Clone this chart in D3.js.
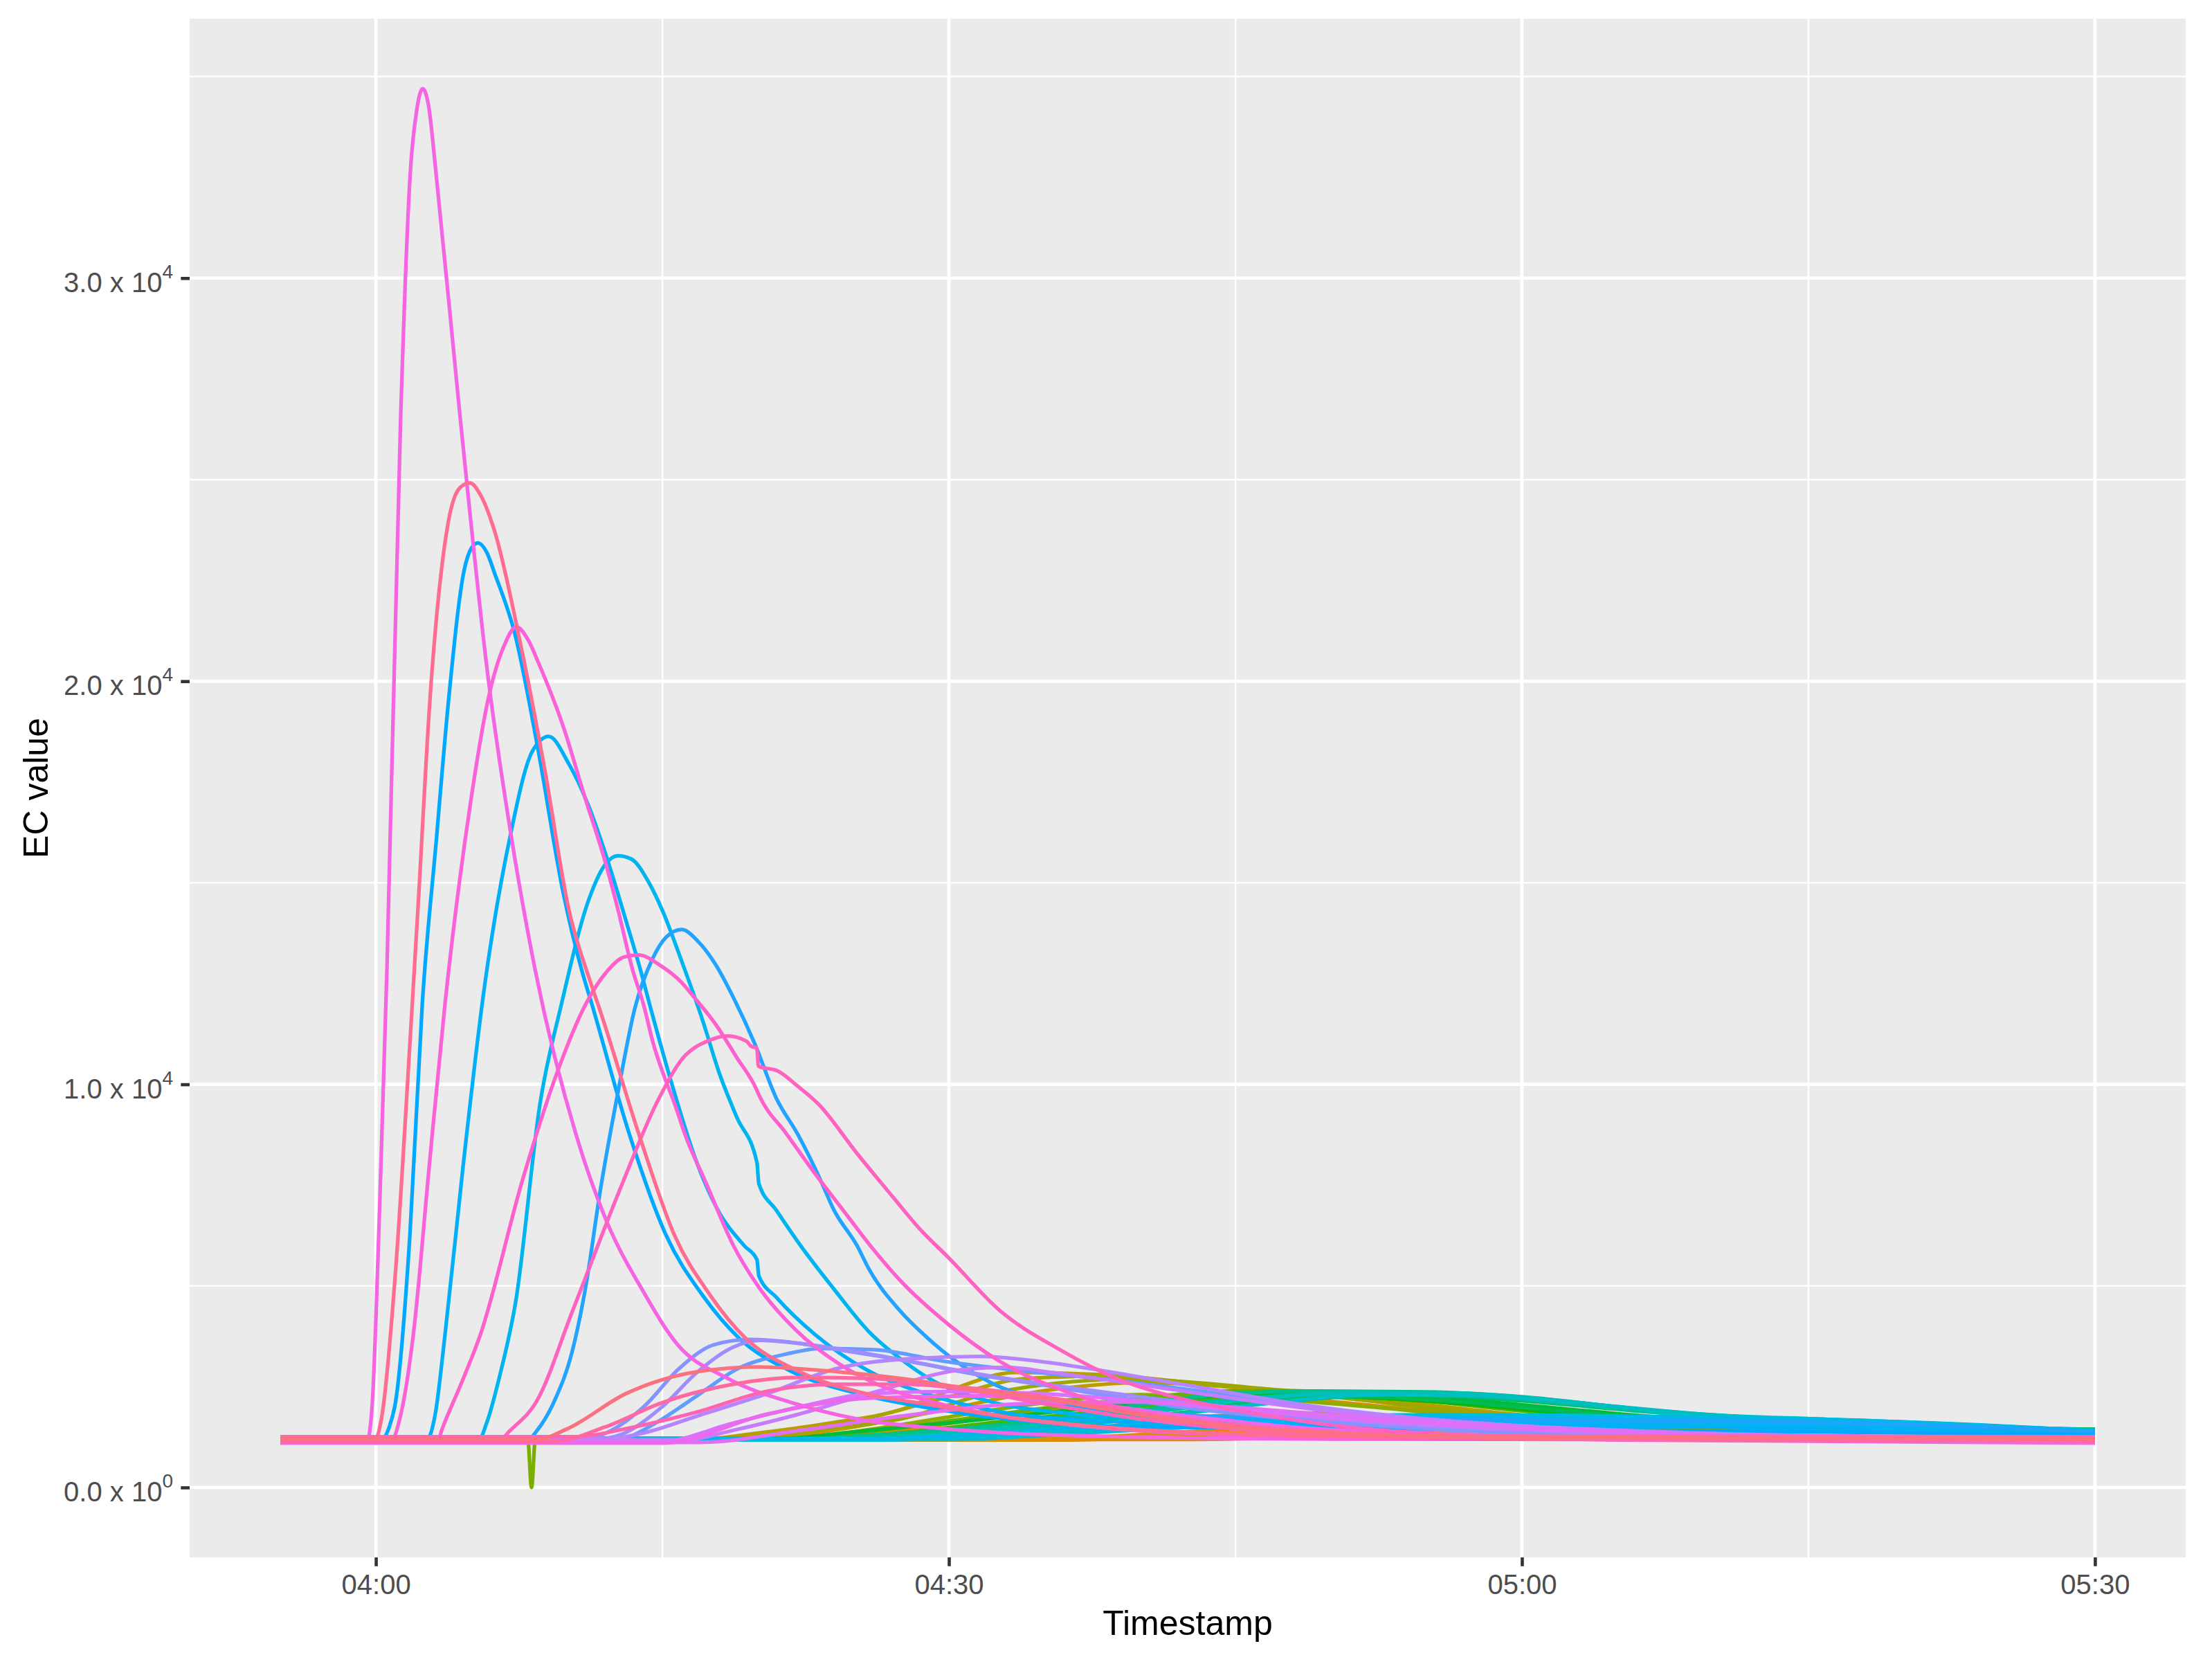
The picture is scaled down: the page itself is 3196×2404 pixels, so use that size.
<!DOCTYPE html>
<html><head><meta charset="utf-8">
<script src="https://cdn.jsdelivr.net/npm/d3@7"></script>
<style>html,body{margin:0;padding:0;background:#fff;} svg{display:block;}</style>
</head><body>
<svg id="chart" width="3196" height="2404"></svg>
<script>
// ---- data: [minutes after 04:00, EC value] ----
const g01 = [[-5,1200],[40,1200],[50,1320],[60,1480],[70,1500],[80,1450],[90,1420]];
const g02 = [[-5,1190],[42,1190],[52,1320],[62,1450],[72,1480],[82,1450],[90,1425]];
const g03 = [[-5,1210],[38,1210],[48,1360],[58,1520],[68,1540],[78,1480],[90,1435]];
const g04 = [[-5,1200],[44,1200],[54,1350],[64,1470],[74,1490],[84,1460],[90,1440]];
const g05 = [[-5,1180],[36,1180],[46,1380],[56,1580],[66,1600],[76,1520],[90,1445]];
const g06 = [[-5,1200],[34,1200],[44,1420],[54,1650],[62,1660],[72,1560],[82,1480],[90,1440]];
const g07 = [[-5,1200],[22,1200],[28,1450],[33,1800],[38,2100],[43,2250],[48,2200],[55,1900],[62,1620],[72,1500],[90,1440]];
const g08 = [[-5,1220],[20,1220],[25,1500],[30,1950],[35,2400],[40,2600],[45,2500],[50,2300],[56,1950],[62,1700],[72,1520],[90,1440]];
const g09 = [[-5,1200],[17,1200],[20,1350],[23.8,1600],[27.5,1930],[30,2400],[33.5,2850],[37.9,2800],[42.3,2620],[44.6,2500],[48,2380],[52,2200],[56,2000],[60,1800],[66,1650],[75,1530],[90,1430]];
const g10 = [[-5,1210],[18,1210],[22,1400],[26,1750],[30,2250],[34,2700],[38,2760],[43,2560],[48,2350],[54,2050],[60,1750],[70,1560],[90,1430]];
const g11 = [[-5,1180],[19,1180],[23.8,1470],[27.5,1700],[31.6,2270],[35,2550],[39,2680],[43,2600],[47,2420],[52,2150],[57,1850],[62,1620],[70,1520],[80,1470],[90,1420]];
const g12 = [[-5,1190],[21,1190],[26,1450],[30,1750],[35,2100],[40,2300],[45,2250],[52,2000],[60,1650],[70,1450],[90,1400]];
const g13 = [[-5,1200],[7.95,1200],[8.15,0],[8.35,1200],[30,1200],[36,1400],[42,1700],[48,1850],[55,1700],[62,1500],[72,1400],[90,1380]];
const g14 = [[-5,1190],[22,1190],[26,1400],[30.8,1700],[35.4,1990],[40,2210],[44.6,2390],[48,2400],[52.8,2250],[60,1900],[69.4,1550],[80,1450],[90,1410]];
const g15 = [[-5,1200],[23,1200],[28,1380],[33,1650],[38,1900],[43,2150],[48,2300],[53,2200],[60,1950],[68,1650],[78,1480],[90,1420]];
const g16 = [[-5,1180],[24,1180],[30,1400],[35,1650],[40,1900],[45,2150],[50,2250],[55,2150],[62,1850],[70,1600],[80,1480],[90,1420]];
const g17 = [[-5,1210],[21,1210],[25,1380],[30,1600],[35,1850],[40,2100],[45,2300],[50,2350],[55,2250],[60,2050],[67,1750],[75,1550],[90,1430]];
const g18 = [[-5,1190],[25,1190],[31,1400],[36,1650],[41,1900],[46,2150],[51,2250],[56,2150],[62,1900],[70,1650],[80,1500],[90,1430]];
const g19 = [[-5,1200],[24,1200],[29,1350],[34,1550],[39,1800],[44,2050],[49,2250],[54,2300],[60,2150],[66,1900],[74,1650],[90,1440]];
const g20 = [[-5,1210],[26,1210],[32,1400],[38,1650],[43,1900],[48,2150],[53,2300],[58,2250],[64,2000],[72,1700],[82,1520],[90,1440]];
const g21 = [[-5,1200],[22,1200],[26,1300],[30.8,1470],[35.4,1700],[40,2040],[44.6,2330],[49.3,2390],[55,2370],[60,2250],[65,2000],[69.4,1780],[75,1700],[82,1560],[90,1420]];
const g22 = [[-5,1190],[24,1190],[29,1330],[34,1550],[39,1850],[44,2150],[49,2300],[54,2330],[60,2200],[65,1950],[70,1750],[76,1650],[90,1410]];
const g23 = [[-5,1210],[25,1210],[30,1350],[35,1580],[40,1870],[45,2150],[50,2330],[56,2350],[61,2200],[66,1950],[71,1770],[78,1640],[90,1400]];
const g24 = [[-5,1200],[26,1200],[31,1350],[36,1600],[41,1900],[46,2200],[51,2360],[57,2300],[63,2100],[68,1850],[74,1700],[82,1560],[90,1390]];
const g25 = [[-5,1180],[27,1180],[32,1320],[37,1550],[42,1820],[47,2100],[52,2300],[58,2280],[64,2050],[70,1800],[76,1690],[84,1520],[90,1380]];
const g26 = [[-5,1200],[28,1200],[35,1350],[42,1550],[48,1720],[54,1800],[62,1790],[70,1740],[78,1660],[85,1520],[90,1400]];
const g27 = [[-5,1190],[30,1190],[37,1350],[44,1530],[50,1650],[56,1700],[64,1690],[72,1640],[80,1560],[90,1380]];
const g28 = [[-5,1210],[26,1210],[33,1380],[40,1560],[46,1720],[52,1780],[60,1780],[68,1750],[76,1690],[84,1550],[90,1410]];
const g29 = [[-5,1190],[5.4,1190],[5.8,1600],[6.5,2800],[7.32,4610],[8.6,9540],[9.72,12000],[11.16,14600],[12.0,15450],[12.67,15670],[13.37,15590],[14.3,15000],[15.04,14270],[15.96,13120],[17.07,11640],[18.0,10250],[18.9,9180],[19.95,8060],[20.05,7540],[20.96,6880],[22.25,5990],[23.95,4940],[25.8,3870],[27.64,3130],[28.9,2720],[32,2150],[36,1850],[42,1680],[50,1620],[60,1600],[75,1550],[84,1460],[90,1360]];
const g30 = [[-5,1210],[2.7,1210],[3.1,1800],[3.62,3790],[4.55,7900],[5.65,12300],[7.05,16200],[8.18,18250],[9.05,18630],[10.1,17950],[11.1,16950],[12.07,15650],[13.1,14050],[13.84,12860],[14.35,11950],[15.6,9840],[16.7,8190],[18.0,6800],[19.3,5990],[19.95,5650],[20.05,5250],[21.0,4700],[23.0,3790],[25.8,2890],[28.9,2310],[33,1850],[38,1650],[45,1560],[55,1530],[70,1500],[82,1420],[90,1330]];
const g31 = [[-5,1200],[0.3,1200],[0.7,1500],[1.04,2150],[1.78,6250],[2.43,12000],[3.17,16090],[3.82,19600],[4.62,22750],[5.0,23300],[5.35,23430],[5.8,23200],[6.23,22660],[7.28,21170],[8.5,18280],[9.8,14770],[10.76,12860],[11.3,12000],[13.3,8720],[15.2,6250],[17.1,4770],[19.0,3710],[21.7,2890],[25.4,2310],[28.6,2000],[33,1700],[40,1500],[50,1460],[60,1430],[75,1380],[90,1300]];
const g32 = [[-5,1200],[8.0,1200],[8.43,1410],[9.35,2150],[10.28,3380],[11.0,5020],[11.76,7400],[12.7,9870],[13.56,11890],[14.49,13120],[15.2,13650],[16.0,13840],[16.9,13530],[17.8,12960],[18.73,12140],[19.85,10990],[20.95,9670],[22.1,8750],[23.36,7540],[23.95,6910],[25.2,5990],[25.8,5430],[27.5,4350],[28.9,3700],[30.2,3190],[32.2,2600],[35,2150],[40,1850],[48,1720],[60,1680],[70,1650],[80,1560],[90,1380]];
const g33 = [[-5,1190],[13.0,1190],[13.5,1300],[15,1700],[16.8,2270],[19.0,2960],[21.4,3300],[23.3,3450],[26.05,3420],[29.75,3130],[34.7,2850],[37.9,2700],[44.1,2330],[50.3,1930],[55,1680],[60,1470],[70,1300],[90,1200]];
const g34 = [[-5,1200],[11.0,1200],[11.8,1300],[14.0,1990],[15.9,2960],[17.7,3540],[19.6,3670],[21.4,3620],[24.2,3420],[27.9,3130],[31.6,2790],[34.7,2560],[38,2300],[42,2000],[48,1700],[55,1450],[65,1300],[90,1220]];
const g35 = [[-5,1210],[11.8,1210],[12.75,1300],[14.96,1990],[16.8,2850],[18.66,3470],[20.1,3650],[22,3580],[25,3380],[28.5,3080],[32,2780],[36,2500],[40,2250],[46,1900],[52,1620],[60,1420],[70,1300],[90,1230]];
const g36 = [[-5,1200],[12,1200],[14,1350],[17,1800],[20.5,2330],[24.2,2960],[27.9,3190],[31.6,3250],[34.7,3130],[38,2900],[42.3,2550],[49.3,2000],[55,1700],[60,1520],[70,1320],[90,1210]];
const g37 = [[-5,1180],[16,1180],[19,1450],[22,1800],[26,2350],[30.8,2930],[33,2980],[35.4,2850],[42.3,2390],[49.3,1930],[60,1530],[70,1340],[90,1200]];
const g38 = [[-5,1150],[15,1150],[18.66,1590],[22,1980],[26,2330],[30,2380],[34.7,2330],[40,2150],[46,1880],[52,1650],[60,1450],[70,1300],[90,1150]];
const g39 = [[-5,1120],[17,1120],[22,1400],[28,1800],[34,2080],[40,2120],[46,1950],[52,1720],[60,1480],[70,1300],[90,1130]];
const g40 = [[-5,1100],[15,1100],[20.5,1820],[26.05,2220],[31.6,2270],[36,2150],[42,1800],[48,1500],[55,1320],[65,1180],[90,1100]];
const g41 = [[-5,1180],[-0.45,1180],[-0.2,2000],[0.2,7000],[0.58,12860],[1.3,26600],[1.8,32600],[2.15,34200],[2.45,34700],[2.75,34300],[3.15,32600],[4.4,26600],[5.9,20000],[7.05,16260],[8.33,12860],[10.5,8720],[11.95,6750],[14.0,4860],[15.8,3540],[18.4,2710],[22.1,2060],[25.8,1650],[28.9,1490],[33,1350],[40,1250],[50,1200],[90,1180]];
const g42 = [[-5,1170],[0.8,1170],[1.3,1800],[1.96,3790],[2.8,8000],[3.62,12000],[4.95,16970],[5.9,19600],[6.73,20900],[7.35,21350],[8.0,21000],[8.5,20470],[9.8,18890],[10.93,17140],[12.08,15400],[12.64,14400],[13.47,12790],[14.0,12000],[14.49,11070],[15.8,9300],[16.15,8800],[17.3,7540],[18.73,5990],[20,5000],[22,3900],[24.3,3050],[26.7,2470],[28.9,2150],[33,1750],[38,1480],[45,1300],[55,1200],[90,1170]];
const g43 = [[-5,1220],[3.3,1220],[3.44,1410],[4.4,2500],[5.47,3790],[7.69,7650],[9.54,10360],[11.0,12000],[12.08,12790],[13.0,13160],[13.75,13210],[14.86,12960],[15.96,12550],[16.7,12140],[17.8,11480],[18.9,10660],[19.9,9900],[20.04,9750],[21.5,8770],[23.0,7780],[24.46,6880],[25.9,5990],[27.46,5130],[29.96,4050],[32.66,3130],[36.8,2270],[41,1760],[46.2,1410],[52,1280],[60,1230],[90,1220]];
const g44 = [[-5,1180],[6.5,1180],[7.0,1400],[8.43,2150],[10.28,4360],[12.86,7490],[14.7,9540],[16.0,10610],[17.5,11100],[18.4,11200],[19.4,11070],[19.66,10940],[19.94,10900],[20.03,10450],[21.05,10330],[22.07,9960],[23.17,9510],[25.2,8280],[27.06,7210],[28.5,6400],[29.96,5710],[32.66,4390],[35.8,3420],[38.9,2680],[42.0,2220],[46.2,1820],[50.3,1530],[54.5,1360],[60,1270],[70,1200],[90,1180]];
const g45 = [[-5,1260],[10.5,1260],[13,1450],[16.8,1870],[20.5,2390],[24.2,2560],[27.9,2560],[31,2420],[34.7,2100],[40,1700],[45,1450],[52,1300],[60,1270],[90,1260]];
const g46 = [[-5,1140],[9.3,1140],[12,1500],[14.96,2100],[18.7,2560],[22.35,2730],[26.05,2700],[30,2520],[34.7,2270],[40,1850],[45,1550],[52,1330],[60,1200],[90,1150]];
const g47 = [[-5,1230],[0,1230],[0.3,1730],[1.04,5430],[1.78,11000],[2.2,14340],[2.84,19600],[3.8,23970],[4.4,24800],[4.92,24920],[5.5,24600],[6.23,23700],[7.54,21000],[8.83,17840],[10.1,14340],[11.26,12500],[11.76,11800],[13.8,8720],[15.64,6250],[17.5,4770],[19.34,3710],[22.1,2890],[25.8,2310],[28.9,2060],[33,1750],[38,1500],[45,1330],[55,1250],[90,1230]];
const g48 = [[-5,1200],[8.5,1200],[10,1450],[13.1,2330],[16.8,2870],[20.0,2990],[24.2,2870],[27.9,2680],[31,2450],[34.7,2220],[40,1800],[45,1500],[50,1350],[60,1250],[90,1210]];

const seriesList = [g01,g02,g03,g04,g05,g06,g07,g08,g09,g10,g11,g12,g13,g14,g15,g16,g17,g18,g19,g20,g21,g22,g23,g24,g25,g26,g27,g28,g29,g30,g31,g32,g33,g34,g35,g36,g37,g38,g39,g40,g41,g42,g43,g44,g45,g46,g47,g48];
const seriesNames = seriesList.map((_, i) => "g" + String(i + 1).padStart(2, "0"));

const startClock = "04:00";
const xTickLabels = ["04:00", "04:30", "05:00", "05:30"];
const yTickValues = [0, 10000, 20000, 30000];
const yTickMantissas = ["0.0", "1.0", "2.0", "3.0"];
const yTickExponents = ["0", "4", "4", "4"];
const xTitle = "Timestamp";
const yTitle = "EC value";

// ---- colours: ggplot2 hue palette (polarLUV) ----
function hclHex(h, c, l) {
  const WY = 100, Wu = 0.1978398, Wv = 0.4683363;
  const hr = h * Math.PI / 180;
  const U = c * Math.cos(hr), V = c * Math.sin(hr);
  const Y = WY * (l > 7.999592 ? Math.pow((l + 16) / 116, 3) : l / 903.3);
  const u = U / (13 * l) + Wu, v = V / (13 * l) + Wv;
  const X = 9 * Y * u / (4 * v);
  const Z = -X / 3 - 5 * Y + 3 * Y / v;
  const g = x => x > 0.00304 ? 1.055 * Math.pow(x, 1 / 2.4) - 0.055 : 12.92 * x;
  const cl = x => Math.max(0, Math.min(1, x));
  const r = cl(g((3.240479 * X - 1.537150 * Y - 0.498535 * Z) / WY));
  const gg = cl(g((-0.969256 * X + 1.875992 * Y + 0.041556 * Z) / WY));
  const b = cl(g((0.055648 * X - 0.204043 * Y + 1.057311 * Z) / WY));
  return d3.rgb(Math.round(r * 255), Math.round(gg * 255), Math.round(b * 255)).formatHex();
}
const N = seriesList.length;
const color = d3.scaleOrdinal().domain(seriesNames)
  .range(seriesNames.map((_, i) => hclHex(15 + 360 * i / N, 100, 65)));

// ---- layout ----
const W = 3196, H = 2404;
const P = {left: 274, right: 3158, top: 27, bottom: 2250};
const parseClock = d3.timeParse("%H:%M");
const base = parseClock(startClock);
const toDate = m => new Date(base.getTime() + m * 60000);

const data = seriesList.map((pts, i) => ({name: seriesNames[i], values: pts.map(p => ({t: toDate(p[0]), v: p[1]}))}));
const allT = data.flatMap(s => s.values.map(d => d.t));
const allV = data.flatMap(s => s.values.map(d => d.v));
const tExt = d3.extent(allT), vExt = d3.extent(allV);
const tPad = (tExt[1] - tExt[0]) * 0.05, vPad = (vExt[1] - vExt[0]) * 0.05;

const x = d3.scaleTime().domain([new Date(+tExt[0] - tPad), new Date(+tExt[1] + tPad)]).range([P.left, P.right]);
const y = d3.scaleLinear().domain([vExt[0] - vPad, vExt[1] + vPad]).range([P.bottom, P.top]);

const svg = d3.select("#chart");
svg.append("rect").attr("width", W).attr("height", H).attr("fill", "#ffffff");
svg.append("rect").attr("x", P.left).attr("y", P.top).attr("width", P.right - P.left).attr("height", P.bottom - P.top).attr("fill", "#EBEBEB");

const xMajor = xTickLabels.map(s => parseClock(s));
const xStep = xMajor[1] - xMajor[0];
const xMinor = d3.range(xMajor.length + 1).map(i => new Date(+xMajor[0] - xStep / 2 + i * xStep))
  .filter(d => d >= x.domain()[0] && d <= x.domain()[1]);
const yStep = yTickValues[1] - yTickValues[0];
const yMinor = d3.range(yTickValues.length + 1).map(i => yTickValues[0] - yStep / 2 + i * yStep)
  .filter(v => v >= y.domain()[0] && v <= y.domain()[1]);

const grid = svg.append("g");
grid.selectAll(".ymin").data(yMinor).join("line").attr("x1", P.left).attr("x2", P.right)
  .attr("y1", d => y(d)).attr("y2", d => y(d)).attr("stroke", "#fff").attr("stroke-width", 2.4);
grid.selectAll(".xmin").data(xMinor).join("line").attr("y1", P.top).attr("y2", P.bottom)
  .attr("x1", d => x(d)).attr("x2", d => x(d)).attr("stroke", "#fff").attr("stroke-width", 2.4);
grid.selectAll(".ymaj").data(yTickValues).join("line").attr("x1", P.left).attr("x2", P.right)
  .attr("y1", d => y(d)).attr("y2", d => y(d)).attr("stroke", "#fff").attr("stroke-width", 4.7);
grid.selectAll(".xmaj").data(xMajor).join("line").attr("y1", P.top).attr("y2", P.bottom)
  .attr("x1", d => x(d)).attr("x2", d => x(d)).attr("stroke", "#fff").attr("stroke-width", 4.7);

const line = d3.line().x(d => x(d.t)).y(d => y(d.v)).curve(d3.curveMonotoneX);
svg.append("g").selectAll("path").data(data).join("path")
  .attr("d", d => line(d.values)).attr("fill", "none")
  .attr("stroke", d => color(d.name)).attr("stroke-width", 5.3)
  .attr("stroke-linejoin", "round");

const FONT = "'Liberation Sans', Arial, Helvetica, sans-serif";

// x axis
const xAxis = svg.append("g").attr("transform", `translate(0,${P.bottom})`)
  .call(d3.axisBottom(x).tickValues(xMajor).tickSize(12.7).tickFormat(d3.timeFormat("%H:%M")));
xAxis.select(".domain").remove();
xAxis.selectAll(".tick line").attr("stroke", "#333333").attr("stroke-width", 4.6);
xAxis.selectAll(".tick text").attr("y", 53).attr("dy", null)
  .attr("font-family", FONT).attr("font-size", 40).attr("fill", "#4D4D4D");

// y axis
const yAxis = svg.append("g").attr("transform", `translate(${P.left},0)`)
  .call(d3.axisLeft(y).tickValues(yTickValues).tickSize(12.7));
yAxis.select(".domain").remove();
yAxis.selectAll(".tick line").attr("stroke", "#333333").attr("stroke-width", 4.6);
yAxis.selectAll(".tick text").each(function(d) {
  const i = yTickValues.indexOf(d);
  const t = d3.select(this).text(null).attr("x", -24).attr("y", 19.7).attr("dy", null)
    .attr("text-anchor", "end").attr("font-family", FONT).attr("fill", "#4D4D4D");
  t.append("tspan").attr("font-size", 40).text(yTickMantissas[i] + " x 10");
  t.append("tspan").attr("font-size", 28).attr("dy", -20).text(yTickExponents[i]);
});

// titles
svg.append("text").attr("x", (P.left + P.right) / 2).attr("y", 2361.7).attr("text-anchor", "middle")
  .attr("font-family", FONT).attr("font-size", 50).attr("fill", "#000").text(xTitle);
svg.append("text").attr("transform", `translate(69,${(P.top + P.bottom) / 2}) rotate(-90)`)
  .attr("text-anchor", "middle").attr("font-family", FONT).attr("font-size", 50).attr("fill", "#000").text(yTitle);
</script>
</body></html>
